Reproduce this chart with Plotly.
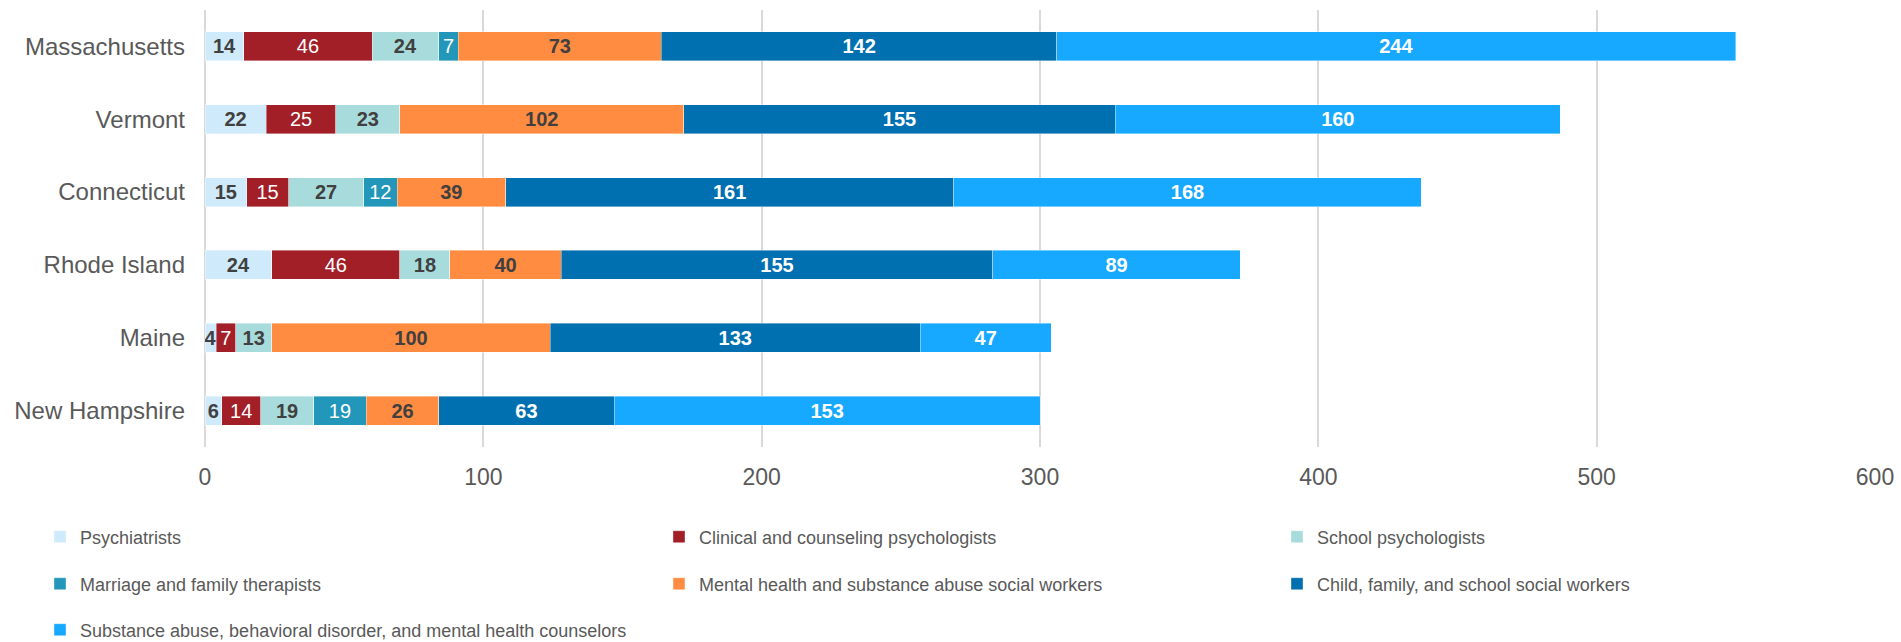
import plotly.graph_objects as go

states = ["Massachusetts", "Vermont", "Connecticut", "Rhode Island", "Maine", "New Hampshire"]

psychiatrists = [14, 22, 15, 24, 4, 6]
clinical_psych = [46, 25, 15, 46, 7, 14]
school_psych = [24, 23, 27, 18, 13, 19]
marriage_family = [7, None, 12, None, None, 19]
mh_social_workers = [73, 102, 39, 40, 100, 26]
child_social_workers = [142, 155, 161, 155, 133, 63]
substance_counselors = [244, 160, 168, 89, 47, 153]

x_ticks = [0, 100, 200, 300, 400, 500, 600]

series = [
    ("Psychiatrists", psychiatrists, "#CFEAFB", "#404040", "bold"),
    ("Clinical and counseling psychologists", clinical_psych, "#A21F28", "#FFFFFF", "normal"),
    ("School psychologists", school_psych, "#A8DCDC", "#404040", "bold"),
    ("Marriage and family therapists", marriage_family, "#2397BA", "#FFFFFF", "normal"),
    ("Mental health and substance abuse social workers", mh_social_workers, "#FF8C40", "#404040", "bold"),
    ("Child, family, and school social workers", child_social_workers, "#0070B0", "#FFFFFF", "bold"),
    ("Substance abuse, behavioral disorder, and mental health counselors", substance_counselors, "#17A8FF", "#FFFFFF", "bold"),
]

W, H = 1901, 642
# legend grid: 3 columns, 3 rows
col_left = [40, 659, 1277]
row_mid = [537, 584, 630]

fig = go.Figure()
legends = {}
for i, (name, vals, color, tcolor, weight) in enumerate(series):
    key = "legend" if i == 0 else f"legend{i + 1}"
    fig.add_trace(go.Bar(
        y=states, x=vals, name=name, orientation="h",
        marker=dict(color=color, line=dict(color="rgba(255,255,255,0.5)", width=0.8)),
        text=[str(v) if v is not None else "" for v in vals],
        textposition="inside", insidetextanchor="middle",
        constraintext="none",
        textfont=dict(family="Arial, Liberation Sans", size=20, color=tcolor, weight=weight),
        legend=key,
        hoverinfo="x+name",
    ))
    r, c = divmod(i, 3)
    legends[key] = dict(
        orientation="h", xref="container", yref="container",
        xanchor="left", yanchor="middle",
        x=col_left[c] / W, y=1 - row_mid[r] / H,
        font=dict(family="Arial, Liberation Sans", size=18, color="#595959"),
        bgcolor="rgba(0,0,0,0)", borderwidth=0,
    )

fig.update_layout(
    width=W, height=H,
    barmode="stack", bargap=0.6,
    plot_bgcolor="white", paper_bgcolor="white",
    margin=dict(l=205, r=26, t=10, b=195),
    font=dict(family="Arial, Liberation Sans", color="#595959"),
    xaxis=dict(
        range=[0, 600], tickvals=x_ticks, ticktext=[str(t) for t in x_ticks],
        showgrid=True, gridcolor="#D9D9D9", gridwidth=1.5,
        zeroline=True, zerolinecolor="#D9D9D9", zerolinewidth=1.5,
        showline=False, ticks="", automargin=False,
        tickfont=dict(size=23, color="#595959"),
        ticklabelstandoff=14,
    ),
    yaxis=dict(
        categoryorder="array", categoryarray=states, autorange="reversed",
        showgrid=False, zeroline=False, showline=False, ticks="", automargin=False,
        tickfont=dict(size=24, color="#595959"),
        ticklabelstandoff=19,
    ),
    showlegend=True,
    **legends,
)

fig.write_html(
    "out.html",
    config={"displayModeBar": False},
    post_script="document.body.style.margin='0';document.body.style.overflow='hidden';",
)
